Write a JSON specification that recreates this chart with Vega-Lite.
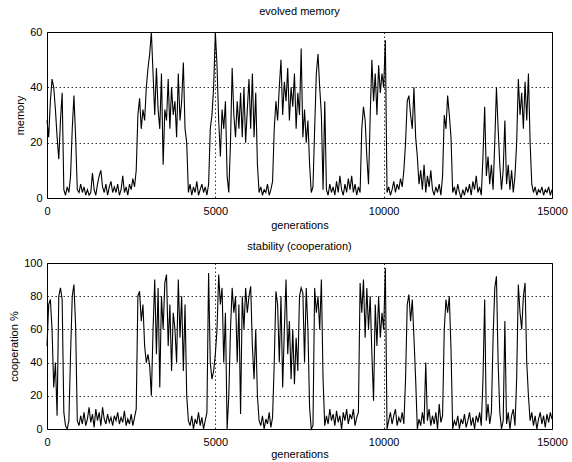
{
  "$schema": "https://vega.github.io/schema/vega-lite/v6.json",
  "padding": {"left": 8, "top": 5, "right": 18, "bottom": 2},
  "background": "white",
  "spacing": 9,
  "data": {"values": [
{"g":0,"m":28,"c":50},{"g":50,"m":22,"c":75},{"g":100,"m":35,"c":78},{"g":150,"m":43,"c":60},{"g":200,"m":40,"c":25},{"g":250,"m":32,"c":40},{"g":300,"m":22,"c":8},{"g":350,"m":14,"c":80},{"g":400,"m":28,"c":85},{"g":450,"m":38,"c":78},
{"g":500,"m":3,"c":10},{"g":550,"m":1,"c":2},{"g":600,"m":4,"c":0},{"g":650,"m":2,"c":5},{"g":700,"m":8,"c":45},{"g":750,"m":25,"c":80},{"g":800,"m":37,"c":87},{"g":850,"m":22,"c":62},{"g":900,"m":3,"c":5},{"g":950,"m":2,"c":2},
{"g":1000,"m":5,"c":8},{"g":1050,"m":2,"c":3},{"g":1100,"m":4,"c":10},{"g":1150,"m":1,"c":2},{"g":1200,"m":3,"c":6},{"g":1250,"m":1,"c":13},{"g":1300,"m":2,"c":4},{"g":1350,"m":9,"c":9},{"g":1400,"m":3,"c":1},{"g":1450,"m":1,"c":12},
{"g":1500,"m":5,"c":5},{"g":1550,"m":8,"c":10},{"g":1600,"m":10,"c":2},{"g":1650,"m":4,"c":13},{"g":1700,"m":2,"c":6},{"g":1750,"m":5,"c":3},{"g":1800,"m":1,"c":9},{"g":1850,"m":4,"c":4},{"g":1900,"m":6,"c":7},{"g":1950,"m":2,"c":2},
{"g":2000,"m":4,"c":8},{"g":2050,"m":2,"c":5},{"g":2100,"m":5,"c":10},{"g":2150,"m":1,"c":3},{"g":2200,"m":3,"c":7},{"g":2250,"m":8,"c":4},{"g":2300,"m":2,"c":11},{"g":2350,"m":4,"c":2},{"g":2400,"m":1,"c":6},{"g":2450,"m":5,"c":3},
{"g":2500,"m":3,"c":9},{"g":2550,"m":7,"c":2},{"g":2600,"m":4,"c":7},{"g":2650,"m":10,"c":12},{"g":2700,"m":30,"c":80},{"g":2750,"m":36,"c":83},{"g":2800,"m":25,"c":65},{"g":2850,"m":32,"c":75},{"g":2900,"m":28,"c":50},{"g":2950,"m":40,"c":40},
{"g":3000,"m":47,"c":45},{"g":3050,"m":52,"c":38},{"g":3100,"m":60,"c":20},{"g":3150,"m":45,"c":60},{"g":3200,"m":30,"c":90},{"g":3250,"m":47,"c":45},{"g":3300,"m":32,"c":85},{"g":3350,"m":25,"c":25},{"g":3400,"m":45,"c":80},{"g":3450,"m":12,"c":60},
{"g":3500,"m":32,"c":88},{"g":3550,"m":28,"c":93},{"g":3600,"m":43,"c":50},{"g":3650,"m":25,"c":75},{"g":3700,"m":40,"c":35},{"g":3750,"m":30,"c":70},{"g":3800,"m":35,"c":60},{"g":3850,"m":22,"c":40},{"g":3900,"m":45,"c":90},{"g":3950,"m":28,"c":55},
{"g":4000,"m":35,"c":80},{"g":4050,"m":49,"c":35},{"g":4100,"m":25,"c":75},{"g":4150,"m":20,"c":20},{"g":4200,"m":2,"c":5},{"g":4250,"m":5,"c":2},{"g":4300,"m":1,"c":8},{"g":4350,"m":4,"c":0},{"g":4400,"m":2,"c":6},{"g":4450,"m":6,"c":3},
{"g":4500,"m":1,"c":10},{"g":4550,"m":3,"c":2},{"g":4600,"m":5,"c":7},{"g":4650,"m":2,"c":0},{"g":4700,"m":4,"c":5},{"g":4750,"m":1,"c":10},{"g":4800,"m":5,"c":94},{"g":4850,"m":25,"c":40},{"g":4900,"m":30,"c":30},{"g":4950,"m":40,"c":35},
{"g":5000,"m":60,"c":45},{"g":5050,"m":48,"c":60},{"g":5100,"m":28,"c":93},{"g":5150,"m":15,"c":75},{"g":5200,"m":32,"c":85},{"g":5250,"m":25,"c":40},{"g":5300,"m":35,"c":70},{"g":5350,"m":8,"c":0},{"g":5400,"m":2,"c":20},{"g":5450,"m":20,"c":60},
{"g":5500,"m":47,"c":85},{"g":5550,"m":30,"c":70},{"g":5600,"m":22,"c":80},{"g":5650,"m":35,"c":40},{"g":5700,"m":25,"c":75},{"g":5750,"m":38,"c":9},{"g":5800,"m":22,"c":80},{"g":5850,"m":40,"c":60},{"g":5900,"m":20,"c":85},{"g":5950,"m":32,"c":70},
{"g":6000,"m":43,"c":80},{"g":6050,"m":25,"c":86},{"g":6100,"m":45,"c":50},{"g":6150,"m":22,"c":30},{"g":6200,"m":38,"c":60},{"g":6250,"m":12,"c":20},{"g":6300,"m":2,"c":5},{"g":6350,"m":4,"c":2},{"g":6400,"m":1,"c":8},{"g":6450,"m":3,"c":0},
{"g":6500,"m":2,"c":6},{"g":6550,"m":5,"c":3},{"g":6600,"m":1,"c":10},{"g":6650,"m":3,"c":1},{"g":6700,"m":6,"c":7},{"g":6750,"m":25,"c":40},{"g":6800,"m":35,"c":83},{"g":6850,"m":28,"c":75},{"g":6900,"m":40,"c":40},{"g":6950,"m":50,"c":80},
{"g":7000,"m":30,"c":25},{"g":7050,"m":42,"c":60},{"g":7100,"m":35,"c":90},{"g":7150,"m":47,"c":45},{"g":7200,"m":28,"c":65},{"g":7250,"m":40,"c":30},{"g":7300,"m":33,"c":60},{"g":7350,"m":45,"c":27},{"g":7400,"m":25,"c":55},{"g":7450,"m":38,"c":35},
{"g":7500,"m":30,"c":80},{"g":7550,"m":54,"c":85},{"g":7600,"m":22,"c":82},{"g":7650,"m":32,"c":40},{"g":7700,"m":20,"c":85},{"g":7750,"m":28,"c":60},{"g":7800,"m":12,"c":13},{"g":7850,"m":2,"c":0},{"g":7900,"m":4,"c":2},{"g":7950,"m":25,"c":85},
{"g":8000,"m":45,"c":70},{"g":8050,"m":52,"c":80},{"g":8100,"m":40,"c":60},{"g":8150,"m":30,"c":90},{"g":8200,"m":3,"c":30},{"g":8250,"m":35,"c":2},{"g":8300,"m":3,"c":8},{"g":8350,"m":1,"c":3},{"g":8400,"m":5,"c":12},{"g":8450,"m":2,"c":5},
{"g":8500,"m":4,"c":9},{"g":8550,"m":1,"c":2},{"g":8600,"m":6,"c":11},{"g":8650,"m":2,"c":4},{"g":8700,"m":8,"c":8},{"g":8750,"m":3,"c":0},{"g":8800,"m":1,"c":10},{"g":8850,"m":5,"c":5},{"g":8900,"m":2,"c":12},{"g":8950,"m":7,"c":3},
{"g":9000,"m":3,"c":9},{"g":9050,"m":8,"c":6},{"g":9100,"m":2,"c":12},{"g":9150,"m":5,"c":2},{"g":9200,"m":1,"c":7},{"g":9250,"m":4,"c":10},{"g":9300,"m":2,"c":88},{"g":9350,"m":25,"c":70},{"g":9400,"m":33,"c":90},{"g":9450,"m":28,"c":55},
{"g":9500,"m":15,"c":85},{"g":9550,"m":5,"c":60},{"g":9600,"m":30,"c":80},{"g":9650,"m":50,"c":45},{"g":9700,"m":35,"c":17},{"g":9750,"m":45,"c":75},{"g":9800,"m":30,"c":50},{"g":9850,"m":48,"c":80},{"g":9900,"m":38,"c":55},{"g":9950,"m":45,"c":70},
{"g":10000,"m":40,"c":60},{"g":10050,"m":57,"c":97},{"g":10100,"m":2,"c":0},{"g":10150,"m":4,"c":5},{"g":10200,"m":1,"c":10},{"g":10250,"m":3,"c":3},{"g":10300,"m":6,"c":8},{"g":10350,"m":2,"c":12},{"g":10400,"m":5,"c":2},{"g":10450,"m":3,"c":7},
{"g":10500,"m":7,"c":4},{"g":10550,"m":4,"c":10},{"g":10600,"m":10,"c":3},{"g":10650,"m":20,"c":30},{"g":10700,"m":35,"c":75},{"g":10750,"m":37,"c":81},{"g":10800,"m":30,"c":65},{"g":10850,"m":25,"c":78},{"g":10900,"m":40,"c":55},{"g":10950,"m":22,"c":30},
{"g":11000,"m":15,"c":0},{"g":11050,"m":5,"c":6},{"g":11100,"m":10,"c":2},{"g":11150,"m":3,"c":10},{"g":11200,"m":12,"c":3},{"g":11250,"m":2,"c":40},{"g":11300,"m":8,"c":5},{"g":11350,"m":4,"c":12},{"g":11400,"m":10,"c":2},{"g":11450,"m":3,"c":8},
{"g":11500,"m":1,"c":3},{"g":11550,"m":4,"c":10},{"g":11600,"m":2,"c":0},{"g":11650,"m":5,"c":15},{"g":11700,"m":1,"c":4},{"g":11750,"m":8,"c":8},{"g":11800,"m":30,"c":60},{"g":11850,"m":25,"c":78},{"g":11900,"m":37,"c":70},{"g":11950,"m":30,"c":80},
{"g":12000,"m":22,"c":48},{"g":12050,"m":2,"c":0},{"g":12100,"m":4,"c":5},{"g":12150,"m":1,"c":2},{"g":12200,"m":5,"c":8},{"g":12250,"m":2,"c":0},{"g":12300,"m":0,"c":6},{"g":12350,"m":3,"c":3},{"g":12400,"m":1,"c":9},{"g":12450,"m":4,"c":1},
{"g":12500,"m":2,"c":5},{"g":12550,"m":5,"c":10},{"g":12600,"m":1,"c":2},{"g":12650,"m":6,"c":7},{"g":12700,"m":3,"c":0},{"g":12750,"m":8,"c":8},{"g":12800,"m":2,"c":4},{"g":12850,"m":4,"c":10},{"g":12900,"m":1,"c":2},{"g":12950,"m":15,"c":30},
{"g":13000,"m":33,"c":78},{"g":13050,"m":8,"c":5},{"g":13100,"m":15,"c":15},{"g":13150,"m":5,"c":3},{"g":13200,"m":12,"c":10},{"g":13250,"m":3,"c":55},{"g":13300,"m":20,"c":85},{"g":13350,"m":40,"c":92},{"g":13400,"m":25,"c":40},{"g":13450,"m":12,"c":10},
{"g":13500,"m":3,"c":0},{"g":13550,"m":10,"c":5},{"g":13600,"m":28,"c":65},{"g":13650,"m":5,"c":3},{"g":13700,"m":12,"c":10},{"g":13750,"m":3,"c":0},{"g":13800,"m":10,"c":8},{"g":13850,"m":2,"c":12},{"g":13900,"m":8,"c":2},{"g":13950,"m":20,"c":30},
{"g":14000,"m":43,"c":87},{"g":14050,"m":30,"c":70},{"g":14100,"m":38,"c":60},{"g":14150,"m":25,"c":80},{"g":14200,"m":42,"c":88},{"g":14250,"m":28,"c":40},{"g":14300,"m":45,"c":20},{"g":14350,"m":20,"c":5},{"g":14400,"m":5,"c":10},{"g":14450,"m":2,"c":2},
{"g":14500,"m":4,"c":8},{"g":14550,"m":1,"c":0},{"g":14600,"m":3,"c":6},{"g":14650,"m":2,"c":10},{"g":14700,"m":4,"c":3},{"g":14750,"m":1,"c":8},{"g":14800,"m":3,"c":1},{"g":14850,"m":2,"c":9},{"g":14900,"m":4,"c":4},{"g":14950,"m":1,"c":10},{"g":15000,"m":3,"c":6}
  ]},
  "config": {
    "view": {"stroke": "#000", "strokeWidth": 1},
    "font": "Liberation Sans",
    "axis": {
      "labelFont": "Liberation Sans", "labelFontSize": 11, "labelColor": "#000", "labelPadding": 5,
      "titleFont": "Liberation Sans", "titleFontSize": 11, "titleFontWeight": "normal", "titleColor": "#000", "titlePadding": 4,
      "ticks": false, "domain": false,
      "grid": true, "gridColor": "#000", "gridDash": [1.5, 2.5], "gridWidth": 0.8, "gridOpacity": 1,
      "labelFlush": false, "labelOverlap": false
    },
    "axisX": {"labelPadding": 7, "titlePadding": 3},
    "title": {"fontSize": 11, "fontWeight": "normal", "font": "Liberation Sans", "color": "#000", "offset": 9}
  },
  "vconcat": [
    {
      "title": "evolved memory",
      "width": 505, "height": 166,
      "mark": {"type": "line", "color": "#000", "strokeWidth": 1.1},
      "encoding": {
        "x": {"field": "g", "type": "quantitative", "scale": {"domain": [0, 15000], "nice": false},
              "axis": {"values": [0, 5000, 10000, 15000], "format": "d", "title": "generations"}},
        "y": {"field": "m", "type": "quantitative", "scale": {"domain": [0, 60], "nice": false},
              "axis": {"values": [0, 20, 40, 60], "title": "memory"}}
      }
    },
    {
      "title": {"text": "stability (cooperation)", "offset": 5},
      "width": 505, "height": 166,
      "mark": {"type": "line", "color": "#000", "strokeWidth": 1.1},
      "encoding": {
        "x": {"field": "g", "type": "quantitative", "scale": {"domain": [0, 15000], "nice": false},
              "axis": {"values": [0, 5000, 10000, 15000], "format": "d", "title": "generations", "titlePadding": 1}},
        "y": {"field": "c", "type": "quantitative", "scale": {"domain": [0, 100], "nice": false},
              "axis": {"values": [0, 20, 40, 60, 80, 100], "title": "cooperation %"}}
      }
    }
  ]
}
